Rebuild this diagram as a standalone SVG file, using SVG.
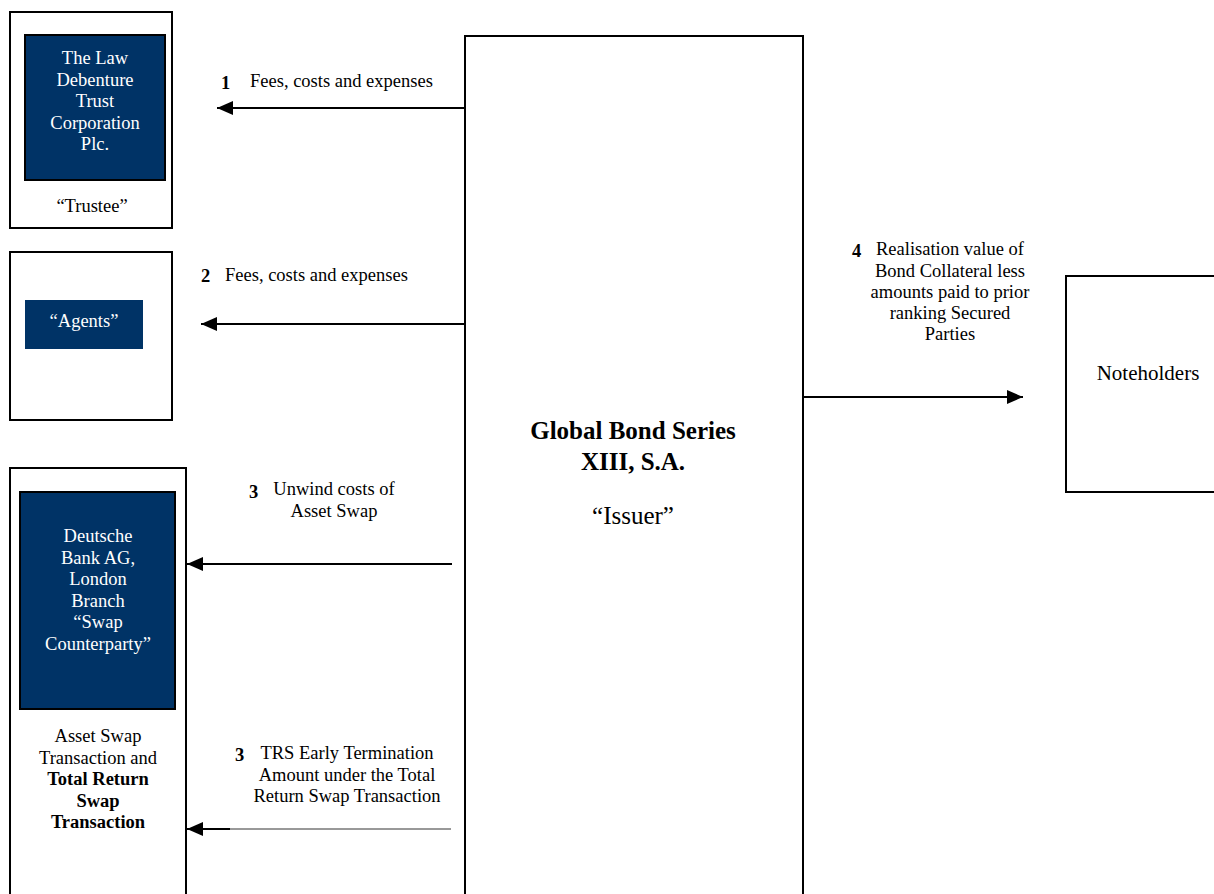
<svg xmlns="http://www.w3.org/2000/svg" width="1214" height="894" viewBox="0 0 1214 894">
<defs>
<marker id="ah" markerWidth="16" markerHeight="14" refX="16" refY="7" orient="auto" markerUnits="userSpaceOnUse">
<path d="M0,0 L16,7 L0,14 Z" fill="#000"/>
</marker>
<style>
.box{fill:#fff;stroke:#000;stroke-width:2}
.navy{fill:#003366;stroke:#000;stroke-width:2}
.navyn{fill:#003366}
text{font-family:"Liberation Serif","Times New Roman",serif;font-size:18.5px;fill:#000}
.w{fill:#fff}
.c{text-anchor:middle}
.b{font-weight:bold}
.big{font-size:25px}
.nh{font-size:21px}
.conn{stroke:#000;stroke-width:2;fill:none}
.thin{stroke:#333;stroke-width:1;fill:none}
</style>
</defs>

<g id="trustee">
<rect class="box" x="10" y="12" width="162" height="216"/>
<rect class="navy" x="25" y="35" width="140" height="145"/>
<text class="w c" x="95" y="64">The Law</text>
<text class="w c" x="95" y="85.5">Debenture</text>
<text class="w c" x="95" y="107">Trust</text>
<text class="w c" x="95" y="128.5">Corporation</text>
<text class="w c" x="95" y="150">Plc.</text>
<text class="c" x="92" y="212">“Trustee”</text>
</g>

<g id="agents">
<rect class="box" x="10" y="252" width="162" height="168"/>
<rect class="navyn" x="25" y="300" width="118" height="49"/>
<text class="w c" x="84" y="327">“Agents”</text>
</g>

<g id="swap-counterparty">
<rect class="box" x="10" y="468" width="176" height="440"/>
<rect class="navy" x="20" y="492" width="155" height="217"/>
<text class="w c" x="98" y="542">Deutsche</text>
<text class="w c" x="98" y="563.5">Bank AG,</text>
<text class="w c" x="98" y="585">London</text>
<text class="w c" x="98" y="606.5">Branch</text>
<text class="w c" x="98" y="628">“Swap</text>
<text class="w c" x="98" y="649.5">Counterparty”</text>
<text class="c" x="98" y="742">Asset Swap</text>
<text class="c" x="98" y="763.5">Transaction and</text>
<text class="c b" x="98" y="785">Total Return</text>
<text class="c b" x="98" y="806.5">Swap</text>
<text class="c b" x="98" y="828">Transaction</text>
</g>

<g id="issuer">
<rect class="box" x="465" y="36" width="338" height="880"/>
<text class="c b big" x="633" y="439">Global Bond Series</text>
<text class="c b big" x="633" y="470">XIII, S.A.</text>
<text class="c big" x="633" y="524">“Issuer”</text>
</g>

<g id="noteholders">
<rect class="box" x="1066" y="276" width="160" height="216"/>
<text class="c nh" x="1148" y="380">Noteholders</text>
</g>

<g id="connectors">
<line class="conn" x1="465" y1="108" x2="217" y2="108" marker-end="url(#ah)"/>
<text class="b" x="221" y="89">1</text>
<text x="250" y="87">Fees, costs and expenses</text>

<line class="conn" x1="465" y1="324" x2="201" y2="324" marker-end="url(#ah)"/>
<text class="b" x="201" y="282">2</text>
<text x="225" y="281">Fees, costs and expenses</text>

<line class="conn" x1="452" y1="564" x2="187" y2="564" marker-end="url(#ah)"/>
<text class="b" x="249" y="498">3</text>
<text class="c" x="334" y="495">Unwind costs of</text>
<text class="c" x="334" y="517">Asset Swap</text>

<line class="thin" x1="451" y1="829" x2="230" y2="829"/>
<line class="conn" x1="230" y1="829" x2="187" y2="829" marker-end="url(#ah)"/>
<text class="b" x="235" y="761">3</text>
<text class="c" x="347" y="759">TRS Early Termination</text>
<text class="c" x="347" y="781">Amount under the Total</text>
<text class="c" x="347" y="802">Return Swap Transaction</text>

<line class="conn" x1="803" y1="397" x2="1023" y2="397" marker-end="url(#ah)"/>
<text class="b" x="852" y="257">4</text>
<text class="c" x="950" y="255">Realisation value of</text>
<text class="c" x="950" y="277">Bond Collateral less</text>
<text class="c" x="950" y="298">amounts paid to prior</text>
<text class="c" x="950" y="319">ranking Secured</text>
<text class="c" x="950" y="340">Parties</text>
</g>
</svg>
